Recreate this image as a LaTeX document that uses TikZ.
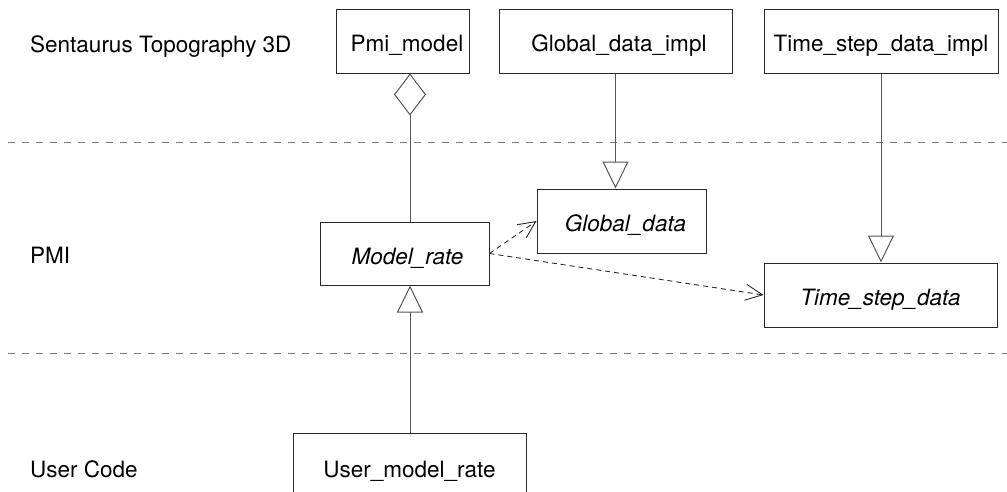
\documentclass[tikz,border=0pt]{standalone}
\usepackage{fontspec}
\setmainfont{TeX Gyre Heros}
\usetikzlibrary{arrows.meta}

\definecolor{boxline}{HTML}{2A2A2A}
\definecolor{linkline}{HTML}{555555}
\definecolor{sepline}{HTML}{7A7A7A}

\tikzset{
  classbox/.style={draw=boxline, line width=1pt, inner sep=0pt,
    minimum height=64pt, text height=21pt, text depth=0pt,
    font=\fontsize{22.5pt}{27pt}\selectfont},
  abstract/.style={classbox, font=\fontsize{22.5pt}{27pt}\selectfont\itshape},
  layer/.style={anchor=base west, inner sep=0pt,
    font=\fontsize{22.5pt}{27pt}\selectfont},
  separator/.style={draw=sepline, line width=1pt, dash pattern=on 7pt off 7pt},
  aggregation/.style={draw=linkline, line width=1pt,
    {Diamond[open, length=42pt, width=32pt]}-},
  inherits/.style={draw=linkline, line width=1pt,
    -{Triangle[open, length=27pt, width=26pt]}},
  uses/.style={draw=boxline, line width=0.9pt, dash pattern=on 5pt off 4pt,
    -{Straight Barb[length=17pt, width=16pt]}}
}

\begin{document}
\begin{tikzpicture}[x=1pt, y=-1pt]
  \useasboundingbox (0,0) rectangle (1007,491);
  \clip (0,0) rectangle (1007,491);

  % layer separators
  \coordinate (sepAleft) at (8,142);
  \coordinate (sepAright) at (1007,142);
  \coordinate (sepBleft) at (8,353);
  \coordinate (sepBright) at (1007,353);
  \draw[separator] (sepAleft) -- (sepAright);
  \draw[separator] (sepBleft) -- (sepBright);

  % layer names
  \node[layer] (lsent) at (30,52) {Sentaurus Topography 3D};
  \node[layer] (lpmi)  at (30,263) {PMI};
  \node[layer] (luser) at (30,477) {User Code};

  % classes (a leading skip nudges the name slightly right of centre)
  \node[classbox, minimum width=133pt] (pmi)  at (402.5,41) {\hspace*{9pt}Pmi\_model};
  \node[classbox, minimum width=233pt] (gdi)  at (615.5,41) {\hspace*{7pt}Global\_data\_impl};
  \node[classbox, minimum width=234pt] (tsdi) at (881,41)   {Time\_step\_data\_impl};
  \node[abstract, minimum width=169pt] (gd)   at (621.5,221) {\hspace*{8pt}Global\_data};
  \node[abstract, minimum width=169pt, minimum height=63pt] (mr) at (404.5,253.5) {\hspace*{6pt}Model\_rate};
  \node[abstract, minimum width=233pt] (tsd)  at (880.5,295) {Time\_step\_data};
  \node[classbox, minimum width=233pt, minimum height=67pt] (umr) at (409.5,466.5) {User\_model\_rate};

  % vertical axis shared by the Model_rate relations
  \coordinate (axis) at (410,0);

  % relations
  \draw[aggregation] (pmi.south -| axis) -- (mr.north -| axis);
  \draw[inherits] (gdi.south) -- (gdi.south |- gd.north);
  \draw[inherits] (tsdi.south) -- (tsdi.south |- tsd.north);
  \draw[inherits] (umr.north -| axis) -- (mr.south -| axis);
  \draw[uses] (mr.east) -- (gd.west);
  \draw[uses] (mr.east) -- (tsd.west);
\end{tikzpicture}
\end{document}
